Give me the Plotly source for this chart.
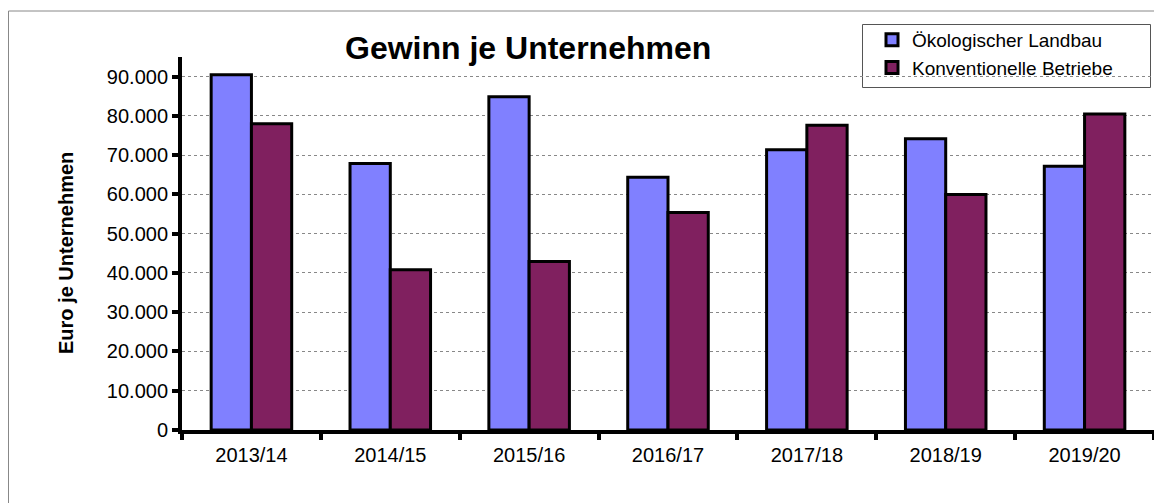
import plotly.graph_objects as go

categories = ["2013/14", "2014/15", "2015/16", "2016/17", "2017/18", "2018/19", "2019/20"]
oeko = [90500, 67900, 84900, 64400, 71400, 74200, 67200]
konv = [78000, 40800, 42900, 55400, 77600, 60000, 80500]
y_ticks = [0, 10000, 20000, 30000, 40000, 50000, 60000, 70000, 80000, 90000]
y_labels = ["0", "10.000", "20.000", "30.000", "40.000", "50.000", "60.000", "70.000", "80.000", "90.000"]

W, H = 1154, 503
L, R, T, B = 182, 0, 57, 73

fig = go.Figure()
fig.add_trace(go.Bar(x=categories, y=oeko, name="Ökologischer Landbau",
                     marker=dict(color="#8080FF", line=dict(color="black", width=3))))
fig.add_trace(go.Bar(x=categories, y=konv, name="Konventionelle Betriebe",
                     marker=dict(color="#80205F", line=dict(color="black", width=3))))

font = "Liberation Sans, Arial, sans-serif"
pw = W - L - R
ph = H - T - B
def px(x):
    return (x - L) / pw
def py(y):
    return (H - B - y) / ph

fig.update_layout(
    width=W, height=H,
    margin=dict(l=L, r=R, t=T, b=B),
    paper_bgcolor="white", plot_bgcolor="white",
    barmode="group", bargap=0.42, bargroupgap=0,
    font=dict(family=font, size=20, color="black"),
    showlegend=True,
    legend=dict(x=px(872), y=py(21), xanchor="left", yanchor="top",
                borderwidth=0, bgcolor="rgba(0,0,0,0)",
                font=dict(size=19), itemwidth=30, tracegroupgap=0),
    xaxis=dict(showline=True, linecolor="black", linewidth=4,
               ticks="outside", tickson="boundaries", ticklen=6, tickwidth=4, tickcolor="black",
               showgrid=False, tickfont=dict(size=20), range=[-0.5, 6.5], ticklabelstandoff=4),
    yaxis=dict(range=[0, 95000], tickvals=y_ticks, ticktext=y_labels,
               showline=True, linecolor="black", linewidth=4,
               ticks="outside", ticklen=6, tickwidth=4, tickcolor="black",
               showgrid=True, gridcolor="#888888", gridwidth=1, griddash="dot",
               tickfont=dict(size=20), zeroline=False),
    annotations=[
        dict(text="<b>Gewinn je Unternehmen</b>", x=px(528), y=py(48), xref="paper", yref="paper",
             showarrow=False, font=dict(size=32, family=font), xanchor="center", yanchor="middle"),
        dict(text="<b>Euro je Unternehmen</b>", x=px(66), y=py(253), xref="paper", yref="paper",
             showarrow=False, textangle=-90, font=dict(size=20, family=font),
             xanchor="center", yanchor="middle"),
    ],
    shapes=[
        dict(type="line", xref="paper", yref="paper", x0=px(8.5), x1=px(8.5), y0=py(11), y1=py(520),
             line=dict(color="#888888", width=1)),
        dict(type="line", xref="paper", yref="paper", x0=px(8.5), x1=px(1160), y0=py(11), y1=py(11),
             line=dict(color="#888888", width=1)),
        dict(type="rect", xref="paper", yref="paper", x0=px(862.5), x1=px(1150.5), y0=py(24.5), y1=py(87.5),
             line=dict(color="#555555", width=1), fillcolor="white", layer="below"),
    ],
)

fig.write_html("out.html", config={"displayModeBar": False},
               post_script="document.body.style.margin='0';document.body.style.overflow='hidden';")
